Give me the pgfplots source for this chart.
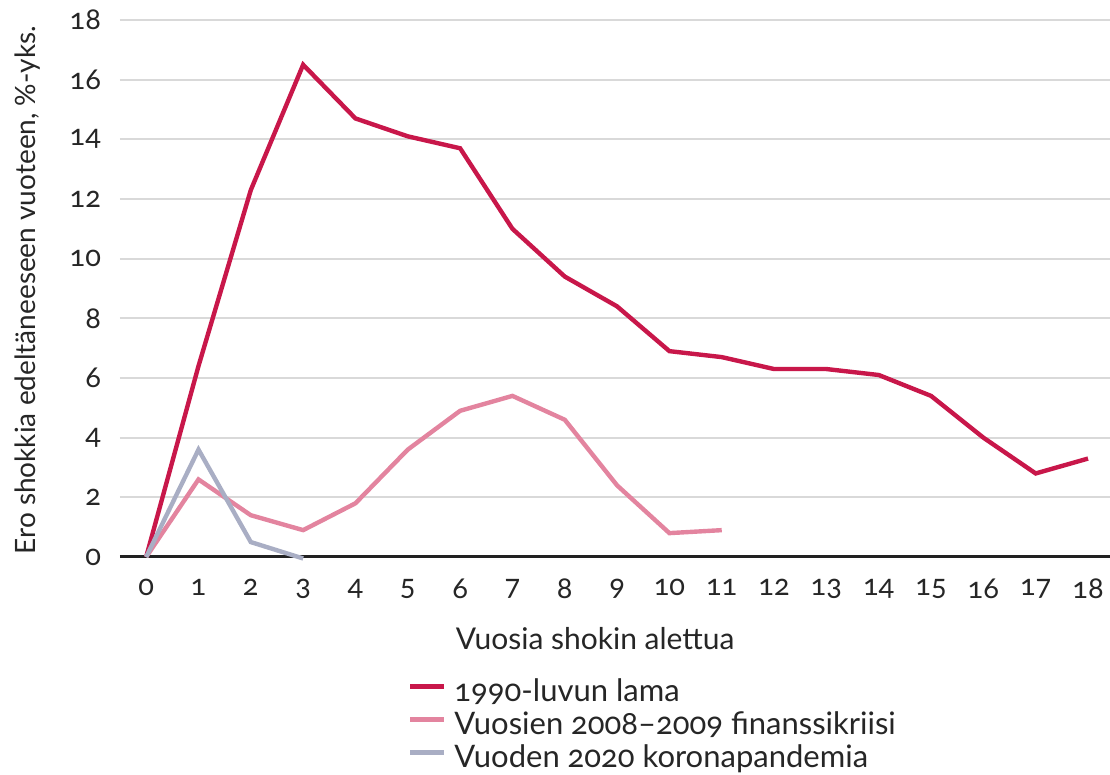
\documentclass[border=0pt]{standalone}
\usepackage{pgfplots}
\pgfplotsset{compat=1.18}
\usepackage{fontspec}
\setmainfont{Lato}[Numbers=OldStyle]
\definecolor{cRed}{HTML}{C8174A}
\definecolor{cPink}{HTML}{E3849F}
\definecolor{cGrey}{HTML}{A9AEC4}
\definecolor{cGrid}{HTML}{D9D9D9}
\begin{document}
\begin{tikzpicture}
\path[use as bounding box] (0,0) rectangle (555pt,387.5pt);
\begin{axis}[
  at={(60pt,109pt)}, anchor=south west,
  scale only axis, width=495pt, height=268.5pt,
  xmin=-0.5, xmax=18.42, ymin=0, ymax=18,
  xtick={0,1,...,18}, ytick={0,2,...,18},
  ymajorgrids, grid style={cGrid, line width=1pt},
  separate axis lines,
  axis x line*=bottom,
  x axis line style={draw=black!87, line width=1.5pt, -},
  y axis line style={draw=none},
  axis y line*=left,
  major tick length=0pt,
  tick style={draw=none},
  /pgf/number format/assume math mode=true,
  ticklabel style={font=\fontsize{14.5}{16}\selectfont, text=black!85},
  yticklabel style={xshift=-6pt},
  xticklabel style={yshift=-7.5pt},
  xlabel={Vuosia shokin alettua},
  ylabel={Ero shokkia edeltäneeseen vuoteen, \%-yks.},
  label style={text=black!85},
  xlabel style={font=\fontsize{15}{17}\selectfont, at={(axis description cs:0.48,-0.151)}, anchor=center},
  ylabel style={font=\fontsize{14}{16}\selectfont, at={(axis description cs:-0.093,0.497)}, anchor=center, rotate=0},
  legend style={at={(axis description cs:0.291,-0.228)}, anchor=north west, draw=none,
    font=\fontsize{15.5}{17}\selectfont, text=black!85, row sep=1.5pt, column sep=4pt,
    inner sep=0pt, outer sep=0pt,
    nodes={inner sep=0pt, text height=11pt, text depth=4pt}},
  legend cell align=left,
  legend image code/.code={\draw[#1, line width=2.2pt] (0pt,4pt) -- (17pt,4pt);},
  clip=false,
]
\addplot[cRed, line width=2.2pt] coordinates {
(0,0) (1,6.4) (2,12.3) (3,16.5) (4,14.7) (5,14.1) (6,13.7) (7,11.0) (8,9.4) (9,8.4)
(10,6.9) (11,6.7) (12,6.3) (13,6.3) (14,6.1) (15,5.4) (16,4.0) (17,2.8) (18,3.3)};
\addlegendentry{1990-luvun lama}
\addplot[cPink, line width=2.2pt] coordinates {
(0,0) (1,2.6) (2,1.4) (3,0.9) (4,1.8) (5,3.6) (6,4.9) (7,5.4) (8,4.6) (9,2.4) (10,0.8) (11,0.9)};
\addlegendentry{Vuosien 2008–2009 finanssikriisi}
\addplot[cGrey, line width=2.2pt] coordinates {
(0,0) (1,3.6) (2,0.5) (3,-0.05)};
\addlegendentry{Vuoden 2020 koronapandemia}
\end{axis}
\end{tikzpicture}
\end{document}
